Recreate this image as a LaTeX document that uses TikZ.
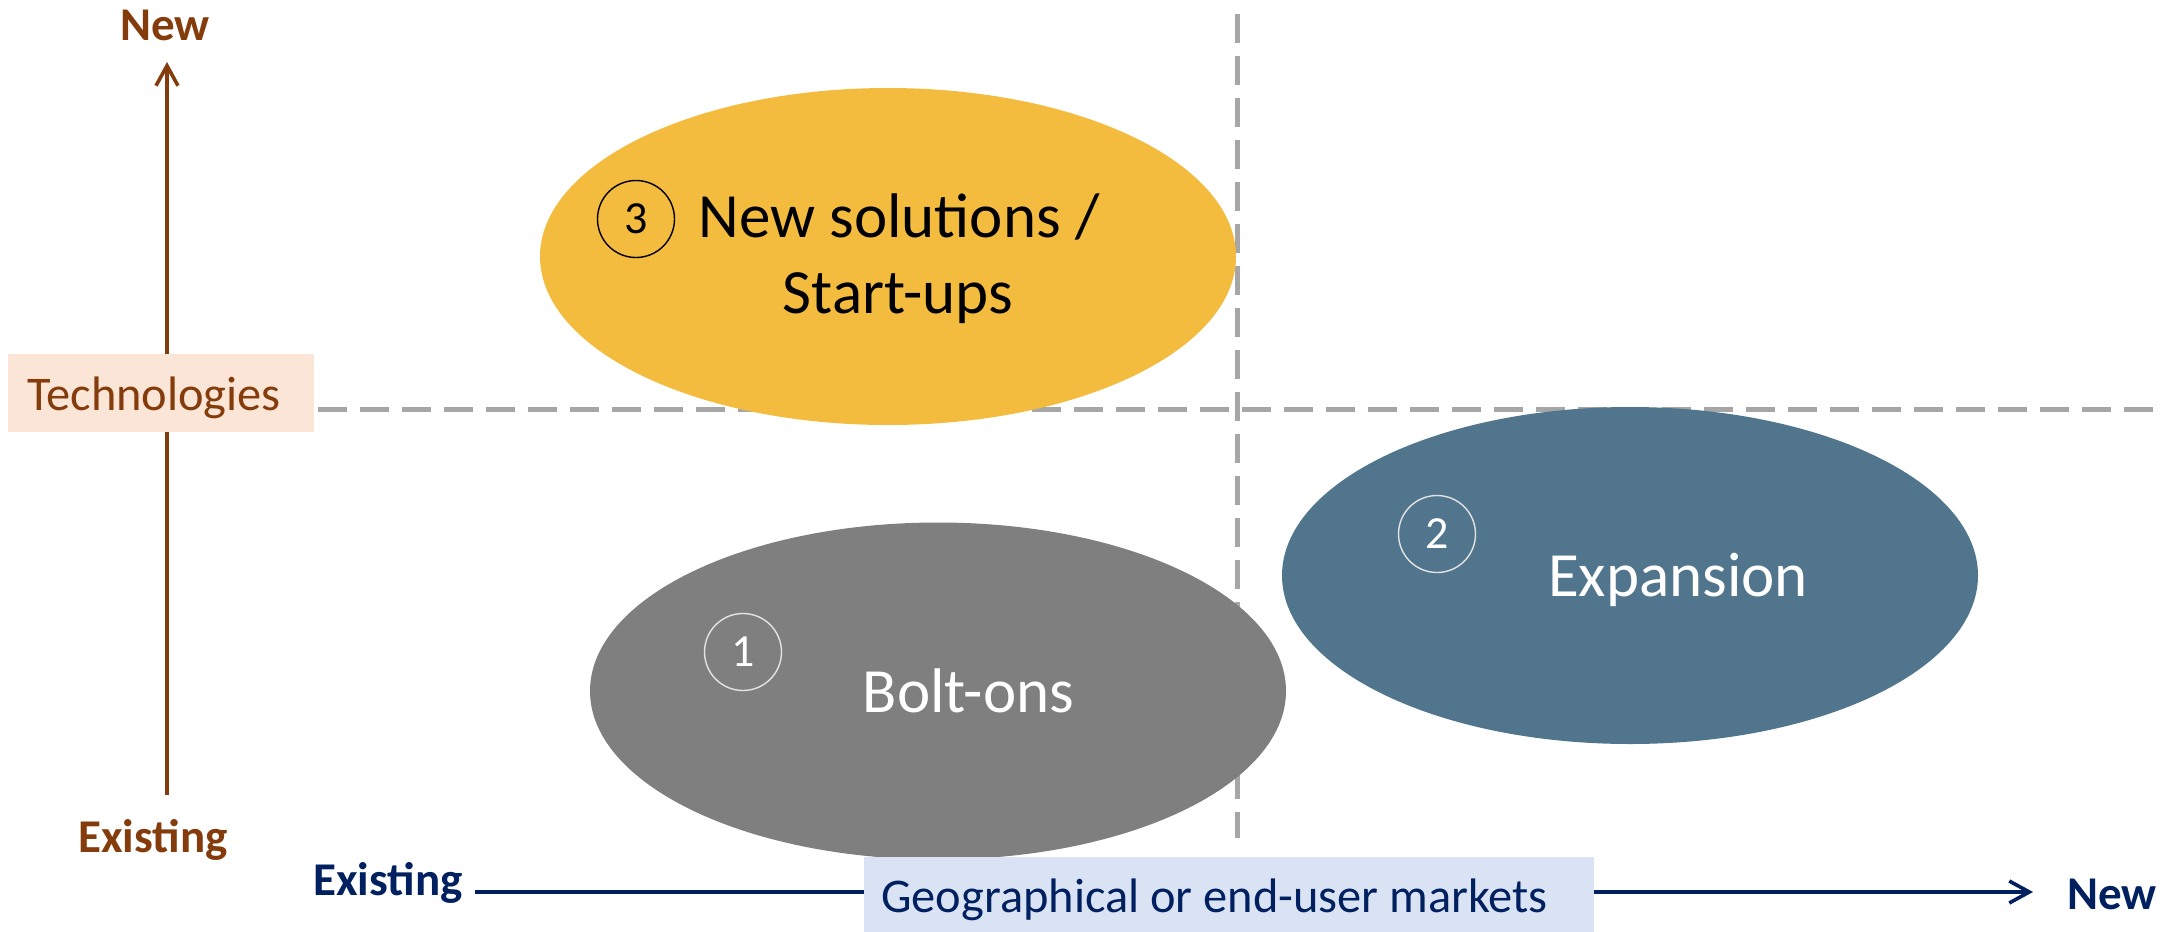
\documentclass[tikz,border=0pt]{standalone}
\usepackage{fontspec}
\setmainfont{Carlito}
\usetikzlibrary{arrows.meta,shapes.geometric}

\definecolor{techbrown}{HTML}{843C0C}
\definecolor{techfill}{HTML}{FBE5D6}
\definecolor{mktblue}{HTML}{002060}
\definecolor{mktfill}{HTML}{DAE3F3}
\definecolor{quadgray}{HTML}{A6A6A6}
\definecolor{startgold}{HTML}{F4BC3E}
\definecolor{boltgray}{HTML}{7F7F7F}
\definecolor{expblue}{HTML}{51758C}
\definecolor{ringgray}{HTML}{E3E3E3}

\begin{document}
\begin{tikzpicture}[x=0.5pt,y=-0.5pt,
    quad/.style={quadgray,line width=2.5pt,dash pattern=on 14.5pt off 6.5pt},
    blob/.style={ellipse,inner sep=0pt,minimum width=348pt,minimum height=168.5pt},
    numc/.style={circle,draw,line width=0.7pt,inner sep=0pt,minimum size=38.5pt,
      font=\fontsize{23}{28}\selectfont},
    big/.style={inner sep=0pt,anchor=base,font=\fontsize{31.5}{38}\selectfont},
    axlbl/.style={inner sep=0pt,anchor=base,font=\fontsize{23.5}{28}\selectfont\bfseries},
    lbl/.style={inner sep=0pt,anchor=base,font=\fontsize{24.2}{29}\selectfont},
    barb/.style={-{Straight Barb[length=10pt,width=11pt]},line width=1.8pt}]
      \useasboundingbox (0,0) rectangle (2164,932) ;
      % quadrant lines
      \coordinate (hl) at (318,409) ; \coordinate (hr) at (2164,409) ;
      \coordinate (vt) at (1237,14) ; \coordinate (vb) at (1237,838) ;
      \draw[quad] (hl)--(hr) ;
      \draw[quad] (vt)--(vb) ;
      % the three ellipses
      \node[blob,fill=startgold] (startups) at (888,256.5) {} ;
      \node[blob,fill=boltgray] (boltons) at (938,691) {} ;
      \node[blob,fill=expblue] (expansion) at (1630,575.5) {} ;
      \node[numc,draw=black] (num3) at (636,219) {3} ;
      \node[big] (startupsA) at (899,237) {New solutions /} ;
      \node[big] (startupsB) at (898,313) {Start-ups} ;
      \node[numc,draw=ringgray,text=white] (num1) at (743,652) {1} ;
      \node[big,text=white] (boltlbl) at (968.5,712) {Bolt-ons} ;
      \node[numc,draw=ringgray,text=white] (num2) at (1437,534) {2} ;
      \node[big,text=white] (explbl) at (1678,596) {Expansion} ;
      % technology axis
      \coordinate (ybot) at (167,795) ; \coordinate (ytop) at (167,62) ;
      \draw[barb,techbrown] (ybot)--(ytop) ;
      \node[fill=techfill,inner sep=0pt,minimum width=153pt,minimum height=39pt] %
      (techbox) at (161,393) {} ;
      \node[lbl,text=techbrown] (techlbl) at (154,410) {Technologies} ;
      \node[axlbl,text=techbrown] (newT) at (165,40) {New} ;
      \node[axlbl,text=techbrown] (existT) at (153,852) {Existing} ;
      % market axis
      \coordinate (xleft) at (475,892) ; \coordinate (xright) at (2033,892) ;
      \draw[barb,mktblue] (xleft)--(xright) ;
      \node[fill=mktfill,inner sep=0pt,minimum width=365pt,minimum height=37.5pt] %
      (mktbox) at (1229,894.5) {} ;
      \node[lbl,text=mktblue] (mktlbl) at (1214.5,912) {Geographical or end-user markets} ;
      \node[axlbl,text=mktblue] (existM) at (388,895) {Existing} ;
      \node[axlbl,text=mktblue] (newM) at (2112,909) {New} ;
    \end{tikzpicture}
\end{document}
